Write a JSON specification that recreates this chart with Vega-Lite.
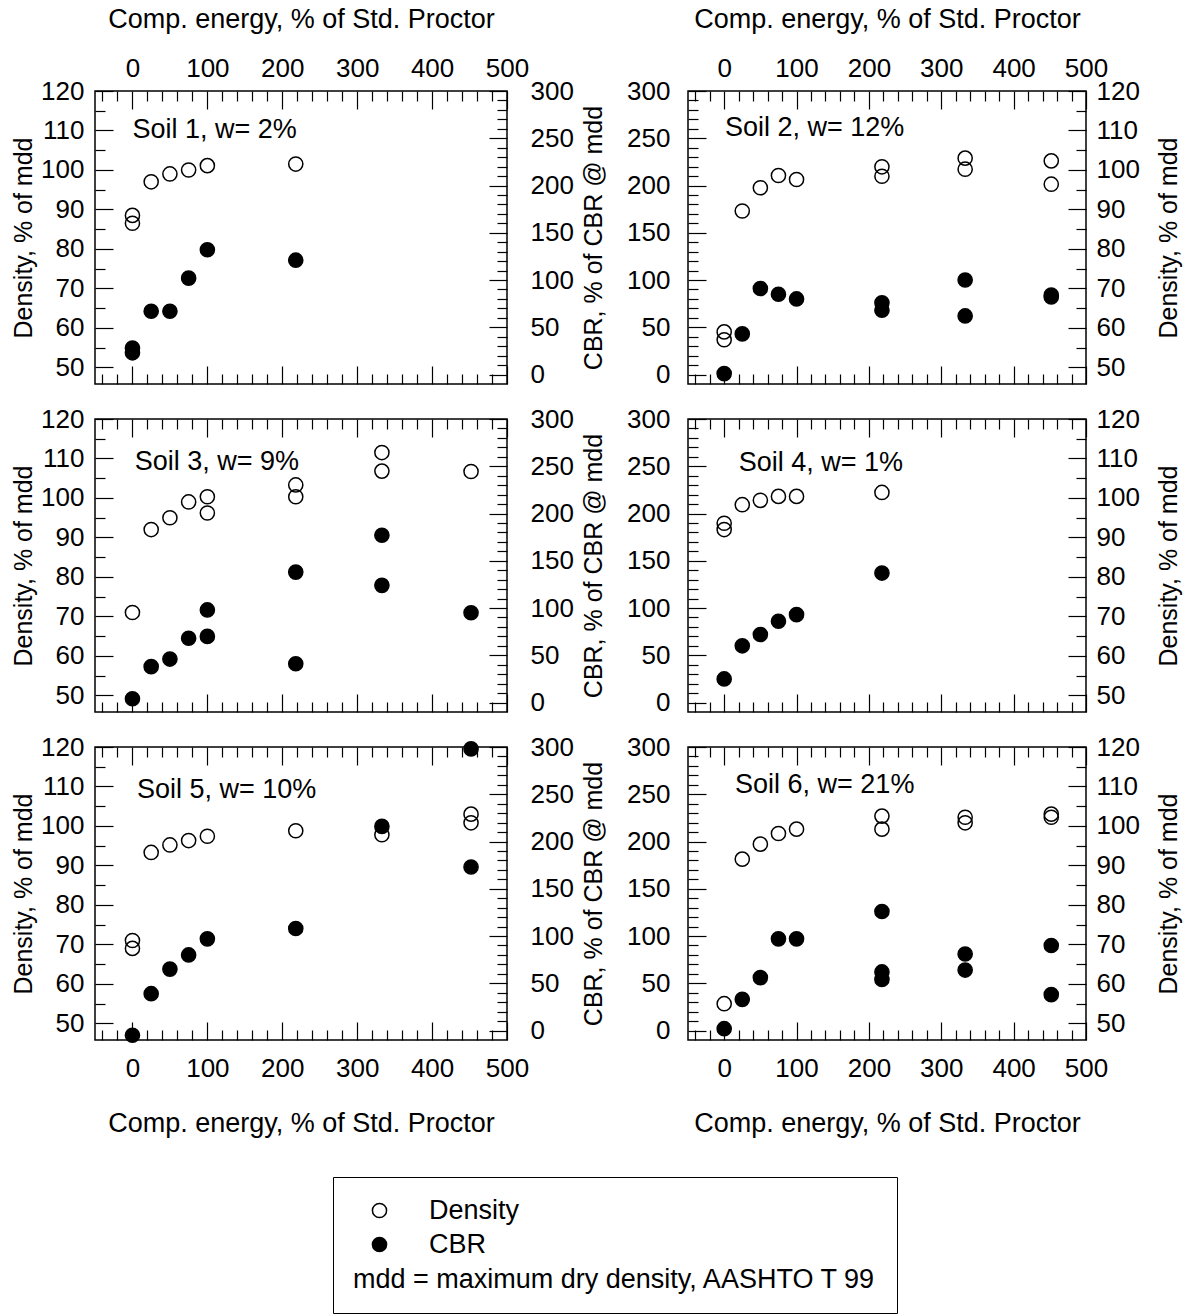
{
  "$schema": "https://vega.github.io/schema/vega-lite/v6.json",
  "autosize": {"type": "pad"},
  "padding": {"left": 10, "top": 4, "right": 5, "bottom": 0},
  "config": {
    "font": "Liberation Sans",
    "view": {"stroke": "black", "strokeWidth": 1.5},
    "axis": {"domain": false, "grid": false, "tickColor": "black", "tickWidth": 1.2, "labelFont": "Liberation Sans", "labelFontSize": 26, "labelColor": "black", "labelFlush": false, "labelOverlap": false, "labelBound": false, "titleFont": "Liberation Sans", "titleFontSize": 25, "titleFontWeight": "normal", "titleColor": "black"},
    "axisX": {"titleFontSize": 27},
    "legend": {"orient": "none", "legendX": 238, "legendY": 1086, "strokeColor": "black", "padding": 20, "titleOrient": "bottom", "titleAnchor": "start", "titleFont": "Liberation Sans", "titleFontSize": 27, "titleFontWeight": "normal", "titleColor": "black", "titlePadding": 9, "titleLimit": 1000, "labelFont": "Liberation Sans", "labelFontSize": 27, "labelColor": "black", "labelOffset": 36, "labelLimit": 1000, "symbolType": "circle", "symbolSize": 200, "symbolOffset": 13, "symbolStrokeColor": "black", "symbolStrokeWidth": 1.5, "rowPadding": 6},
    "text": {"font": "Liberation Sans", "fontSize": 27}
  },
  "datasets": {
    "pts": [
      {"soil": 1, "energy": 0, "measure": "Density", "value": 88.5},
      {"soil": 1, "energy": 0, "measure": "Density", "value": 86.5},
      {"soil": 1, "energy": 25, "measure": "Density", "value": 97},
      {"soil": 1, "energy": 50, "measure": "Density", "value": 99},
      {"soil": 1, "energy": 75, "measure": "Density", "value": 100},
      {"soil": 1, "energy": 100, "measure": "Density", "value": 101.1},
      {"soil": 1, "energy": 218, "measure": "Density", "value": 101.5},
      {"soil": 1, "energy": 0, "measure": "CBR", "value": 28},
      {"soil": 1, "energy": 0, "measure": "CBR", "value": 23},
      {"soil": 1, "energy": 25, "measure": "CBR", "value": 67},
      {"soil": 1, "energy": 50, "measure": "CBR", "value": 67},
      {"soil": 1, "energy": 75, "measure": "CBR", "value": 102},
      {"soil": 1, "energy": 100, "measure": "CBR", "value": 132},
      {"soil": 1, "energy": 218, "measure": "CBR", "value": 121},
      {"soil": 2, "energy": 0, "measure": "Density", "value": 59},
      {"soil": 2, "energy": 0, "measure": "Density", "value": 57},
      {"soil": 2, "energy": 25, "measure": "Density", "value": 89.6},
      {"soil": 2, "energy": 50, "measure": "Density", "value": 95.5},
      {"soil": 2, "energy": 75, "measure": "Density", "value": 98.6},
      {"soil": 2, "energy": 100, "measure": "Density", "value": 97.6},
      {"soil": 2, "energy": 218, "measure": "Density", "value": 100.8},
      {"soil": 2, "energy": 218, "measure": "Density", "value": 98.4},
      {"soil": 2, "energy": 333, "measure": "Density", "value": 103},
      {"soil": 2, "energy": 333, "measure": "Density", "value": 100.2},
      {"soil": 2, "energy": 452, "measure": "Density", "value": 102.3},
      {"soil": 2, "energy": 452, "measure": "Density", "value": 96.4},
      {"soil": 2, "energy": 0, "measure": "CBR", "value": 1},
      {"soil": 2, "energy": 25, "measure": "CBR", "value": 43},
      {"soil": 2, "energy": 50, "measure": "CBR", "value": 91},
      {"soil": 2, "energy": 75, "measure": "CBR", "value": 85},
      {"soil": 2, "energy": 100, "measure": "CBR", "value": 80},
      {"soil": 2, "energy": 218, "measure": "CBR", "value": 76},
      {"soil": 2, "energy": 218, "measure": "CBR", "value": 68},
      {"soil": 2, "energy": 333, "measure": "CBR", "value": 100},
      {"soil": 2, "energy": 333, "measure": "CBR", "value": 62},
      {"soil": 2, "energy": 452, "measure": "CBR", "value": 84},
      {"soil": 2, "energy": 452, "measure": "CBR", "value": 82},
      {"soil": 3, "energy": 0, "measure": "Density", "value": 71},
      {"soil": 3, "energy": 25, "measure": "Density", "value": 92},
      {"soil": 3, "energy": 50, "measure": "Density", "value": 95},
      {"soil": 3, "energy": 75, "measure": "Density", "value": 99},
      {"soil": 3, "energy": 100, "measure": "Density", "value": 100.3},
      {"soil": 3, "energy": 100, "measure": "Density", "value": 96.2},
      {"soil": 3, "energy": 218, "measure": "Density", "value": 103.3},
      {"soil": 3, "energy": 218, "measure": "Density", "value": 100.3},
      {"soil": 3, "energy": 333, "measure": "Density", "value": 111.5},
      {"soil": 3, "energy": 333, "measure": "Density", "value": 106.8},
      {"soil": 3, "energy": 452, "measure": "Density", "value": 106.7},
      {"soil": 3, "energy": 0, "measure": "CBR", "value": 4},
      {"soil": 3, "energy": 25, "measure": "CBR", "value": 38},
      {"soil": 3, "energy": 50, "measure": "CBR", "value": 46},
      {"soil": 3, "energy": 75, "measure": "CBR", "value": 68},
      {"soil": 3, "energy": 100, "measure": "CBR", "value": 70},
      {"soil": 3, "energy": 100, "measure": "CBR", "value": 98},
      {"soil": 3, "energy": 218, "measure": "CBR", "value": 138},
      {"soil": 3, "energy": 218, "measure": "CBR", "value": 41},
      {"soil": 3, "energy": 333, "measure": "CBR", "value": 177},
      {"soil": 3, "energy": 333, "measure": "CBR", "value": 124},
      {"soil": 3, "energy": 452, "measure": "CBR", "value": 95},
      {"soil": 4, "energy": 0, "measure": "Density", "value": 93.6},
      {"soil": 4, "energy": 0, "measure": "Density", "value": 92},
      {"soil": 4, "energy": 25, "measure": "Density", "value": 98.3},
      {"soil": 4, "energy": 50, "measure": "Density", "value": 99.4},
      {"soil": 4, "energy": 75, "measure": "Density", "value": 100.4},
      {"soil": 4, "energy": 100, "measure": "Density", "value": 100.4},
      {"soil": 4, "energy": 218, "measure": "Density", "value": 101.4},
      {"soil": 4, "energy": 0, "measure": "CBR", "value": 25},
      {"soil": 4, "energy": 25, "measure": "CBR", "value": 60},
      {"soil": 4, "energy": 50, "measure": "CBR", "value": 72},
      {"soil": 4, "energy": 75, "measure": "CBR", "value": 86},
      {"soil": 4, "energy": 100, "measure": "CBR", "value": 93},
      {"soil": 4, "energy": 218, "measure": "CBR", "value": 137},
      {"soil": 5, "energy": 0, "measure": "Density", "value": 71},
      {"soil": 5, "energy": 0, "measure": "Density", "value": 69},
      {"soil": 5, "energy": 25, "measure": "Density", "value": 93.3},
      {"soil": 5, "energy": 50, "measure": "Density", "value": 95.2},
      {"soil": 5, "energy": 75, "measure": "Density", "value": 96.3},
      {"soil": 5, "energy": 100, "measure": "Density", "value": 97.4},
      {"soil": 5, "energy": 218, "measure": "Density", "value": 98.8},
      {"soil": 5, "energy": 333, "measure": "Density", "value": 97.8},
      {"soil": 5, "energy": 452, "measure": "Density", "value": 103},
      {"soil": 5, "energy": 452, "measure": "Density", "value": 100.8},
      {"soil": 5, "energy": 0, "measure": "CBR", "value": -5},
      {"soil": 5, "energy": 25, "measure": "CBR", "value": 39},
      {"soil": 5, "energy": 50, "measure": "CBR", "value": 65},
      {"soil": 5, "energy": 75, "measure": "CBR", "value": 80},
      {"soil": 5, "energy": 100, "measure": "CBR", "value": 97},
      {"soil": 5, "energy": 218, "measure": "CBR", "value": 108},
      {"soil": 5, "energy": 333, "measure": "CBR", "value": 216},
      {"soil": 5, "energy": 452, "measure": "CBR", "value": 173},
      {"soil": 5, "energy": 452, "measure": "CBR", "value": 298},
      {"soil": 6, "energy": 0, "measure": "Density", "value": 55},
      {"soil": 6, "energy": 25, "measure": "Density", "value": 91.6},
      {"soil": 6, "energy": 50, "measure": "Density", "value": 95.4},
      {"soil": 6, "energy": 75, "measure": "Density", "value": 98.1},
      {"soil": 6, "energy": 100, "measure": "Density", "value": 99.2},
      {"soil": 6, "energy": 218, "measure": "Density", "value": 102.5},
      {"soil": 6, "energy": 218, "measure": "Density", "value": 99.2},
      {"soil": 6, "energy": 333, "measure": "Density", "value": 102.2},
      {"soil": 6, "energy": 333, "measure": "Density", "value": 100.8},
      {"soil": 6, "energy": 452, "measure": "Density", "value": 103},
      {"soil": 6, "energy": 452, "measure": "Density", "value": 102.2},
      {"soil": 6, "energy": 0, "measure": "CBR", "value": 2},
      {"soil": 6, "energy": 25, "measure": "CBR", "value": 33},
      {"soil": 6, "energy": 50, "measure": "CBR", "value": 56},
      {"soil": 6, "energy": 75, "measure": "CBR", "value": 97},
      {"soil": 6, "energy": 100, "measure": "CBR", "value": 97},
      {"soil": 6, "energy": 218, "measure": "CBR", "value": 126},
      {"soil": 6, "energy": 218, "measure": "CBR", "value": 62},
      {"soil": 6, "energy": 218, "measure": "CBR", "value": 54},
      {"soil": 6, "energy": 333, "measure": "CBR", "value": 81},
      {"soil": 6, "energy": 333, "measure": "CBR", "value": 64},
      {"soil": 6, "energy": 452, "measure": "CBR", "value": 90},
      {"soil": 6, "energy": 452, "measure": "CBR", "value": 38}
    ]
  },
  "columns": 2,
  "spacing": {"row": 35, "column": 181},
  "bounds": "flush",
  "concat": [
    {
      "width": 412, "height": 293,
      "layer": [
        {"data": {"name": "pts"}, "transform": [{"filter": "datum.soil === 1 && datum.measure === 'Density'"}],
         "mark": {"type": "point", "shape": "circle", "filled": true, "size": 200, "stroke": "black", "strokeWidth": 1.5, "opacity": 1},
         "encoding": {
           "x": {"field": "energy", "type": "quantitative", "scale": {"domain": [-50, 500], "nice": false, "zero": false},
                 "axis": {"orient": "top", "values": [-40,-20,0,20,40,60,80,100,120,140,160,180,200,220,240,260,280,300,320,340,360,380,400,420,440,460,480,500], "labelExpr": "datum.value % 100 === 0 ? datum.label : ''", "tickSize": {"condition": {"test": "datum.value % 100 === 0", "value": -18}, "value": -10}, "labelPadding": 28, "title": "Comp. energy, % of Std. Proctor", "titlePadding": 14}},
           "y": {"field": "value", "type": "quantitative", "scale": {"domain": [45.8, 120], "nice": false, "zero": false},
                 "axis": {"orient": "left", "values": [50,55,60,65,70,75,80,85,90,95,100,105,110,115,120], "labelExpr": "datum.value % 10 === 0 ? datum.label : ''", "tickSize": {"condition": {"test": "datum.value % 10 === 0", "value": -18}, "value": -10}, "labelPadding": 29, "title": "Density, % of mdd", "titlePadding": 4}},
           "fill": {"field": "measure", "type": "nominal", "scale": {"domain": ["Density", "CBR"], "range": ["transparent", "black"]}, "legend": {"title": "mdd = maximum dry density, AASHTO T 99", "encode": {"symbols": {"update": {"stroke": {"value": "black"}, "strokeWidth": {"value": 1.5}}}}}}
         }},
        {"data": {"name": "pts"}, "transform": [{"filter": "datum.soil === 1 && datum.measure === 'CBR'"}],
         "mark": {"type": "point", "shape": "circle", "filled": true, "size": 200, "stroke": "black", "strokeWidth": 1.5, "opacity": 1},
         "encoding": {
           "x": {"field": "energy", "type": "quantitative", "scale": {"domain": [-50, 500], "nice": false, "zero": false},
                 "axis": {"orient": "bottom", "values": [-40,-20,0,20,40,60,80,100,120,140,160,180,200,220,240,260,280,300,320,340,360,380,400,420,440,460,480,500], "labels": false, "tickSize": {"condition": {"test": "datum.value % 100 === 0", "value": -18}, "value": -10}, "title": null}},
           "y": {"field": "value", "type": "quantitative", "scale": {"domain": [-10, 300], "nice": false, "zero": false},
                 "axis": {"orient": "right", "values": [0,10,20,30,40,50,60,70,80,90,100,110,120,130,140,150,160,170,180,190,200,210,220,230,240,250,260,270,280,290,300], "labelExpr": "datum.value % 50 === 0 ? datum.label : ''", "tickSize": {"condition": {"test": "datum.value % 50 === 0", "value": -18}, "value": -10}, "labelPadding": 41, "title": null}},
           "fill": {"field": "measure", "type": "nominal", "scale": {"domain": ["Density", "CBR"], "range": ["transparent", "black"]}, "legend": {"title": "mdd = maximum dry density, AASHTO T 99", "encode": {"symbols": {"update": {"stroke": {"value": "black"}, "strokeWidth": {"value": 1.5}}}}}}
         }},
        {"data": {"values": [{"label": "Soil 1, w= 2%"}]},
         "mark": {"type": "text", "align": "left", "baseline": "middle", "color": "black"},
         "encoding": {
           "x": {"datum": 0, "type": "quantitative", "axis": null},
           "y": {"datum": 110, "type": "quantitative", "scale": {"domain": [45.8, 120], "nice": false, "zero": false}, "axis": null},
           "text": {"field": "label"}
         }}
      ],
      "resolve": {"scale": {"y": "independent"}, "axis": {"x": "independent"}}
    },
    {
      "width": 398, "height": 293,
      "layer": [
        {"data": {"name": "pts"}, "transform": [{"filter": "datum.soil === 2 && datum.measure === 'Density'"}],
         "mark": {"type": "point", "shape": "circle", "filled": true, "size": 200, "stroke": "black", "strokeWidth": 1.5, "opacity": 1},
         "encoding": {
           "x": {"field": "energy", "type": "quantitative", "scale": {"domain": [-50, 500], "nice": false, "zero": false},
                 "axis": {"orient": "top", "values": [-40,-20,0,20,40,60,80,100,120,140,160,180,200,220,240,260,280,300,320,340,360,380,400,420,440,460,480,500], "labelExpr": "datum.value % 100 === 0 ? datum.label : ''", "tickSize": {"condition": {"test": "datum.value % 100 === 0", "value": -18}, "value": -10}, "labelPadding": 28, "title": "Comp. energy, % of Std. Proctor", "titlePadding": 14}},
           "y": {"field": "value", "type": "quantitative", "scale": {"domain": [45.8, 120], "nice": false, "zero": false},
                 "axis": {"orient": "right", "values": [50,55,60,65,70,75,80,85,90,95,100,105,110,115,120], "labelExpr": "datum.value % 10 === 0 ? datum.label : ''", "tickSize": {"condition": {"test": "datum.value % 10 === 0", "value": -18}, "value": -10}, "labelPadding": 28, "title": "Density, % of mdd", "titlePadding": 17, "titleAngle": -90, "titleBaseline": "top"}},
           "fill": {"field": "measure", "type": "nominal", "scale": {"domain": ["Density", "CBR"], "range": ["transparent", "black"]}, "legend": {"title": "mdd = maximum dry density, AASHTO T 99", "encode": {"symbols": {"update": {"stroke": {"value": "black"}, "strokeWidth": {"value": 1.5}}}}}}
         }},
        {"data": {"name": "pts"}, "transform": [{"filter": "datum.soil === 2 && datum.measure === 'CBR'"}],
         "mark": {"type": "point", "shape": "circle", "filled": true, "size": 200, "stroke": "black", "strokeWidth": 1.5, "opacity": 1},
         "encoding": {
           "x": {"field": "energy", "type": "quantitative", "scale": {"domain": [-50, 500], "nice": false, "zero": false},
                 "axis": {"orient": "bottom", "values": [-40,-20,0,20,40,60,80,100,120,140,160,180,200,220,240,260,280,300,320,340,360,380,400,420,440,460,480,500], "labels": false, "tickSize": {"condition": {"test": "datum.value % 100 === 0", "value": -18}, "value": -10}, "title": null}},
           "y": {"field": "value", "type": "quantitative", "scale": {"domain": [-10, 300], "nice": false, "zero": false},
                 "axis": {"orient": "left", "values": [0,10,20,30,40,50,60,70,80,90,100,110,120,130,140,150,160,170,180,190,200,210,220,230,240,250,260,270,280,290,300], "labelExpr": "datum.value % 50 === 0 ? datum.label : ''", "tickSize": {"condition": {"test": "datum.value % 50 === 0", "value": -18}, "value": -10}, "labelPadding": 36, "title": "CBR, % of CBR @ mdd", "titlePadding": 20}},
           "fill": {"field": "measure", "type": "nominal", "scale": {"domain": ["Density", "CBR"], "range": ["transparent", "black"]}, "legend": {"title": "mdd = maximum dry density, AASHTO T 99", "encode": {"symbols": {"update": {"stroke": {"value": "black"}, "strokeWidth": {"value": 1.5}}}}}}
         }},
        {"data": {"values": [{"label": "Soil 2, w= 12%"}]},
         "mark": {"type": "text", "align": "left", "baseline": "middle", "color": "black"},
         "encoding": {
           "x": {"datum": 1, "type": "quantitative", "axis": null},
           "y": {"datum": 110.6, "type": "quantitative", "scale": {"domain": [45.8, 120], "nice": false, "zero": false}, "axis": null},
           "text": {"field": "label"}
         }}
      ],
      "resolve": {"scale": {"y": "independent"}, "axis": {"x": "independent"}}
    },
    {
      "width": 412, "height": 293,
      "layer": [
        {"data": {"name": "pts"}, "transform": [{"filter": "datum.soil === 3 && datum.measure === 'Density'"}],
         "mark": {"type": "point", "shape": "circle", "filled": true, "size": 200, "stroke": "black", "strokeWidth": 1.5, "opacity": 1},
         "encoding": {
           "x": {"field": "energy", "type": "quantitative", "scale": {"domain": [-50, 500], "nice": false, "zero": false},
                 "axis": {"orient": "top", "values": [-40,-20,0,20,40,60,80,100,120,140,160,180,200,220,240,260,280,300,320,340,360,380,400,420,440,460,480,500], "labels": false, "tickSize": {"condition": {"test": "datum.value % 100 === 0", "value": -18}, "value": -10}, "title": null}},
           "y": {"field": "value", "type": "quantitative", "scale": {"domain": [45.8, 120], "nice": false, "zero": false},
                 "axis": {"orient": "left", "values": [50,55,60,65,70,75,80,85,90,95,100,105,110,115,120], "labelExpr": "datum.value % 10 === 0 ? datum.label : ''", "tickSize": {"condition": {"test": "datum.value % 10 === 0", "value": -18}, "value": -10}, "labelPadding": 29, "title": "Density, % of mdd", "titlePadding": 4}},
           "fill": {"field": "measure", "type": "nominal", "scale": {"domain": ["Density", "CBR"], "range": ["transparent", "black"]}, "legend": {"title": "mdd = maximum dry density, AASHTO T 99", "encode": {"symbols": {"update": {"stroke": {"value": "black"}, "strokeWidth": {"value": 1.5}}}}}}
         }},
        {"data": {"name": "pts"}, "transform": [{"filter": "datum.soil === 3 && datum.measure === 'CBR'"}],
         "mark": {"type": "point", "shape": "circle", "filled": true, "size": 200, "stroke": "black", "strokeWidth": 1.5, "opacity": 1},
         "encoding": {
           "x": {"field": "energy", "type": "quantitative", "scale": {"domain": [-50, 500], "nice": false, "zero": false},
                 "axis": {"orient": "bottom", "values": [-40,-20,0,20,40,60,80,100,120,140,160,180,200,220,240,260,280,300,320,340,360,380,400,420,440,460,480,500], "labels": false, "tickSize": {"condition": {"test": "datum.value % 100 === 0", "value": -18}, "value": -10}, "title": null}},
           "y": {"field": "value", "type": "quantitative", "scale": {"domain": [-10, 300], "nice": false, "zero": false},
                 "axis": {"orient": "right", "values": [0,10,20,30,40,50,60,70,80,90,100,110,120,130,140,150,160,170,180,190,200,210,220,230,240,250,260,270,280,290,300], "labelExpr": "datum.value % 50 === 0 ? datum.label : ''", "tickSize": {"condition": {"test": "datum.value % 50 === 0", "value": -18}, "value": -10}, "labelPadding": 41, "title": null}},
           "fill": {"field": "measure", "type": "nominal", "scale": {"domain": ["Density", "CBR"], "range": ["transparent", "black"]}, "legend": {"title": "mdd = maximum dry density, AASHTO T 99", "encode": {"symbols": {"update": {"stroke": {"value": "black"}, "strokeWidth": {"value": 1.5}}}}}}
         }},
        {"data": {"values": [{"label": "Soil 3, w= 9%"}]},
         "mark": {"type": "text", "align": "left", "baseline": "middle", "color": "black"},
         "encoding": {
           "x": {"datum": 3, "type": "quantitative", "axis": null},
           "y": {"datum": 109.1, "type": "quantitative", "scale": {"domain": [45.8, 120], "nice": false, "zero": false}, "axis": null},
           "text": {"field": "label"}
         }}
      ],
      "resolve": {"scale": {"y": "independent"}, "axis": {"x": "independent"}}
    },
    {
      "width": 398, "height": 293,
      "layer": [
        {"data": {"name": "pts"}, "transform": [{"filter": "datum.soil === 4 && datum.measure === 'Density'"}],
         "mark": {"type": "point", "shape": "circle", "filled": true, "size": 200, "stroke": "black", "strokeWidth": 1.5, "opacity": 1},
         "encoding": {
           "x": {"field": "energy", "type": "quantitative", "scale": {"domain": [-50, 500], "nice": false, "zero": false},
                 "axis": {"orient": "top", "values": [-40,-20,0,20,40,60,80,100,120,140,160,180,200,220,240,260,280,300,320,340,360,380,400,420,440,460,480,500], "labels": false, "tickSize": {"condition": {"test": "datum.value % 100 === 0", "value": -18}, "value": -10}, "title": null}},
           "y": {"field": "value", "type": "quantitative", "scale": {"domain": [45.8, 120], "nice": false, "zero": false},
                 "axis": {"orient": "right", "values": [50,55,60,65,70,75,80,85,90,95,100,105,110,115,120], "labelExpr": "datum.value % 10 === 0 ? datum.label : ''", "tickSize": {"condition": {"test": "datum.value % 10 === 0", "value": -18}, "value": -10}, "labelPadding": 28, "title": "Density, % of mdd", "titlePadding": 17, "titleAngle": -90, "titleBaseline": "top"}},
           "fill": {"field": "measure", "type": "nominal", "scale": {"domain": ["Density", "CBR"], "range": ["transparent", "black"]}, "legend": {"title": "mdd = maximum dry density, AASHTO T 99", "encode": {"symbols": {"update": {"stroke": {"value": "black"}, "strokeWidth": {"value": 1.5}}}}}}
         }},
        {"data": {"name": "pts"}, "transform": [{"filter": "datum.soil === 4 && datum.measure === 'CBR'"}],
         "mark": {"type": "point", "shape": "circle", "filled": true, "size": 200, "stroke": "black", "strokeWidth": 1.5, "opacity": 1},
         "encoding": {
           "x": {"field": "energy", "type": "quantitative", "scale": {"domain": [-50, 500], "nice": false, "zero": false},
                 "axis": {"orient": "bottom", "values": [-40,-20,0,20,40,60,80,100,120,140,160,180,200,220,240,260,280,300,320,340,360,380,400,420,440,460,480,500], "labels": false, "tickSize": {"condition": {"test": "datum.value % 100 === 0", "value": -18}, "value": -10}, "title": null}},
           "y": {"field": "value", "type": "quantitative", "scale": {"domain": [-10, 300], "nice": false, "zero": false},
                 "axis": {"orient": "left", "values": [0,10,20,30,40,50,60,70,80,90,100,110,120,130,140,150,160,170,180,190,200,210,220,230,240,250,260,270,280,290,300], "labelExpr": "datum.value % 50 === 0 ? datum.label : ''", "tickSize": {"condition": {"test": "datum.value % 50 === 0", "value": -18}, "value": -10}, "labelPadding": 36, "title": "CBR, % of CBR @ mdd", "titlePadding": 20}},
           "fill": {"field": "measure", "type": "nominal", "scale": {"domain": ["Density", "CBR"], "range": ["transparent", "black"]}, "legend": {"title": "mdd = maximum dry density, AASHTO T 99", "encode": {"symbols": {"update": {"stroke": {"value": "black"}, "strokeWidth": {"value": 1.5}}}}}}
         }},
        {"data": {"values": [{"label": "Soil 4, w= 1%"}]},
         "mark": {"type": "text", "align": "left", "baseline": "middle", "color": "black"},
         "encoding": {
           "x": {"datum": 20, "type": "quantitative", "axis": null},
           "y": {"datum": 108.8, "type": "quantitative", "scale": {"domain": [45.8, 120], "nice": false, "zero": false}, "axis": null},
           "text": {"field": "label"}
         }}
      ],
      "resolve": {"scale": {"y": "independent"}, "axis": {"x": "independent"}}
    },
    {
      "width": 412, "height": 293,
      "layer": [
        {"data": {"name": "pts"}, "transform": [{"filter": "datum.soil === 5 && datum.measure === 'Density'"}],
         "mark": {"type": "point", "shape": "circle", "filled": true, "size": 200, "stroke": "black", "strokeWidth": 1.5, "opacity": 1},
         "encoding": {
           "x": {"field": "energy", "type": "quantitative", "scale": {"domain": [-50, 500], "nice": false, "zero": false},
                 "axis": {"orient": "top", "values": [-40,-20,0,20,40,60,80,100,120,140,160,180,200,220,240,260,280,300,320,340,360,380,400,420,440,460,480,500], "labels": false, "tickSize": {"condition": {"test": "datum.value % 100 === 0", "value": -18}, "value": -10}, "title": null}},
           "y": {"field": "value", "type": "quantitative", "scale": {"domain": [45.8, 120], "nice": false, "zero": false},
                 "axis": {"orient": "left", "values": [50,55,60,65,70,75,80,85,90,95,100,105,110,115,120], "labelExpr": "datum.value % 10 === 0 ? datum.label : ''", "tickSize": {"condition": {"test": "datum.value % 10 === 0", "value": -18}, "value": -10}, "labelPadding": 29, "title": "Density, % of mdd", "titlePadding": 4}},
           "fill": {"field": "measure", "type": "nominal", "scale": {"domain": ["Density", "CBR"], "range": ["transparent", "black"]}, "legend": {"title": "mdd = maximum dry density, AASHTO T 99", "encode": {"symbols": {"update": {"stroke": {"value": "black"}, "strokeWidth": {"value": 1.5}}}}}}
         }},
        {"data": {"name": "pts"}, "transform": [{"filter": "datum.soil === 5 && datum.measure === 'CBR'"}],
         "mark": {"type": "point", "shape": "circle", "filled": true, "size": 200, "stroke": "black", "strokeWidth": 1.5, "opacity": 1},
         "encoding": {
           "x": {"field": "energy", "type": "quantitative", "scale": {"domain": [-50, 500], "nice": false, "zero": false},
                 "axis": {"orient": "bottom", "values": [-40,-20,0,20,40,60,80,100,120,140,160,180,200,220,240,260,280,300,320,340,360,380,400,420,440,460,480,500], "labelExpr": "datum.value % 100 === 0 ? datum.label : ''", "tickSize": {"condition": {"test": "datum.value % 100 === 0", "value": -18}, "value": -10}, "labelPadding": 33, "title": "Comp. energy, % of Std. Proctor", "titlePadding": 21}},
           "y": {"field": "value", "type": "quantitative", "scale": {"domain": [-10, 300], "nice": false, "zero": false},
                 "axis": {"orient": "right", "values": [0,10,20,30,40,50,60,70,80,90,100,110,120,130,140,150,160,170,180,190,200,210,220,230,240,250,260,270,280,290,300], "labelExpr": "datum.value % 50 === 0 ? datum.label : ''", "tickSize": {"condition": {"test": "datum.value % 50 === 0", "value": -18}, "value": -10}, "labelPadding": 41, "title": null}},
           "fill": {"field": "measure", "type": "nominal", "scale": {"domain": ["Density", "CBR"], "range": ["transparent", "black"]}, "legend": {"title": "mdd = maximum dry density, AASHTO T 99", "encode": {"symbols": {"update": {"stroke": {"value": "black"}, "strokeWidth": {"value": 1.5}}}}}}
         }},
        {"data": {"values": [{"label": "Soil 5, w= 10%"}]},
         "mark": {"type": "text", "align": "left", "baseline": "middle", "color": "black"},
         "encoding": {
           "x": {"datum": 6, "type": "quantitative", "axis": null},
           "y": {"datum": 109, "type": "quantitative", "scale": {"domain": [45.8, 120], "nice": false, "zero": false}, "axis": null},
           "text": {"field": "label"}
         }}
      ],
      "resolve": {"scale": {"y": "independent"}, "axis": {"x": "independent"}}
    },
    {
      "width": 398, "height": 293,
      "layer": [
        {"data": {"name": "pts"}, "transform": [{"filter": "datum.soil === 6 && datum.measure === 'Density'"}],
         "mark": {"type": "point", "shape": "circle", "filled": true, "size": 200, "stroke": "black", "strokeWidth": 1.5, "opacity": 1},
         "encoding": {
           "x": {"field": "energy", "type": "quantitative", "scale": {"domain": [-50, 500], "nice": false, "zero": false},
                 "axis": {"orient": "top", "values": [-40,-20,0,20,40,60,80,100,120,140,160,180,200,220,240,260,280,300,320,340,360,380,400,420,440,460,480,500], "labels": false, "tickSize": {"condition": {"test": "datum.value % 100 === 0", "value": -18}, "value": -10}, "title": null}},
           "y": {"field": "value", "type": "quantitative", "scale": {"domain": [45.8, 120], "nice": false, "zero": false},
                 "axis": {"orient": "right", "values": [50,55,60,65,70,75,80,85,90,95,100,105,110,115,120], "labelExpr": "datum.value % 10 === 0 ? datum.label : ''", "tickSize": {"condition": {"test": "datum.value % 10 === 0", "value": -18}, "value": -10}, "labelPadding": 28, "title": "Density, % of mdd", "titlePadding": 17, "titleAngle": -90, "titleBaseline": "top"}},
           "fill": {"field": "measure", "type": "nominal", "scale": {"domain": ["Density", "CBR"], "range": ["transparent", "black"]}, "legend": {"title": "mdd = maximum dry density, AASHTO T 99", "encode": {"symbols": {"update": {"stroke": {"value": "black"}, "strokeWidth": {"value": 1.5}}}}}}
         }},
        {"data": {"name": "pts"}, "transform": [{"filter": "datum.soil === 6 && datum.measure === 'CBR'"}],
         "mark": {"type": "point", "shape": "circle", "filled": true, "size": 200, "stroke": "black", "strokeWidth": 1.5, "opacity": 1},
         "encoding": {
           "x": {"field": "energy", "type": "quantitative", "scale": {"domain": [-50, 500], "nice": false, "zero": false},
                 "axis": {"orient": "bottom", "values": [-40,-20,0,20,40,60,80,100,120,140,160,180,200,220,240,260,280,300,320,340,360,380,400,420,440,460,480,500], "labelExpr": "datum.value % 100 === 0 ? datum.label : ''", "tickSize": {"condition": {"test": "datum.value % 100 === 0", "value": -18}, "value": -10}, "labelPadding": 33, "title": "Comp. energy, % of Std. Proctor", "titlePadding": 21}},
           "y": {"field": "value", "type": "quantitative", "scale": {"domain": [-10, 300], "nice": false, "zero": false},
                 "axis": {"orient": "left", "values": [0,10,20,30,40,50,60,70,80,90,100,110,120,130,140,150,160,170,180,190,200,210,220,230,240,250,260,270,280,290,300], "labelExpr": "datum.value % 50 === 0 ? datum.label : ''", "tickSize": {"condition": {"test": "datum.value % 50 === 0", "value": -18}, "value": -10}, "labelPadding": 36, "title": "CBR, % of CBR @ mdd", "titlePadding": 20}},
           "fill": {"field": "measure", "type": "nominal", "scale": {"domain": ["Density", "CBR"], "range": ["transparent", "black"]}, "legend": {"title": "mdd = maximum dry density, AASHTO T 99", "encode": {"symbols": {"update": {"stroke": {"value": "black"}, "strokeWidth": {"value": 1.5}}}}}}
         }},
        {"data": {"values": [{"label": "Soil 6, w= 21%"}]},
         "mark": {"type": "text", "align": "left", "baseline": "middle", "color": "black"},
         "encoding": {
           "x": {"datum": 15, "type": "quantitative", "axis": null},
           "y": {"datum": 110.3, "type": "quantitative", "scale": {"domain": [45.8, 120], "nice": false, "zero": false}, "axis": null},
           "text": {"field": "label"}
         }}
      ],
      "resolve": {"scale": {"y": "independent"}, "axis": {"x": "independent"}}
    }
  ]
}
